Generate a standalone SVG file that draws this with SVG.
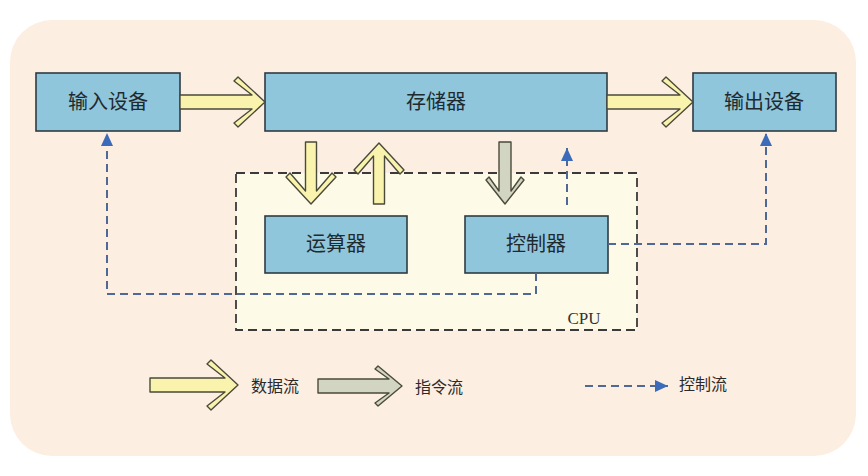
<svg xmlns="http://www.w3.org/2000/svg" width="868" height="476" viewBox="0 0 868 476">
<style>
.box{fill:#90c6db;stroke:#2e3b44;stroke-width:1.6}
.lbl{font-family:"Liberation Serif","Noto Sans CJK SC",serif;font-size:20px;fill:#1e2a30;text-anchor:middle;dominant-baseline:central}
.leg{font-family:"Liberation Serif","Noto Sans CJK SC",serif;font-size:16px;fill:#2a2a2a;dominant-baseline:central}
.data{fill:#faf3ae;stroke:#4a4a3a;stroke-width:1.4;stroke-linejoin:round}
.instr{fill:#d3d5c3;stroke:#4a4a3a;stroke-width:1.4;stroke-linejoin:round}
.ctl{fill:none;stroke:#4f6896;stroke-width:2;stroke-dasharray:8 5}
</style>
<defs>
<marker id="bh" markerUnits="userSpaceOnUse" markerWidth="14" markerHeight="14" viewBox="0 0 14 14" refX="13" refY="7" orient="auto">
<path d="M0,1 L13,7 L0,13 Z" fill="#3c6cb9"/>
</marker>
</defs>
<rect x="0" y="0" width="868" height="476" fill="#ffffff"/>
<rect x="10" y="20" width="846" height="436" rx="42" fill="#fdeee2"/>
<g id="cpu">
<rect x="236" y="173" width="401" height="157" fill="#fdfbe7" stroke="#3a3a3a" stroke-width="1.8" stroke-dasharray="9 5"/>
<text x="584" y="318" font-family="Liberation Serif,serif" font-size="17" fill="#333" text-anchor="middle" dominant-baseline="central">CPU</text>
</g>
<g id="input"><rect class="box" x="36" y="73" width="144" height="58"/><text class="lbl" x="108" y="102">输入设备</text></g>
<g id="memory"><rect class="box" x="265" y="73" width="342" height="58"/><text class="lbl" x="436" y="102">存储器</text></g>
<g id="output"><rect class="box" x="693" y="73" width="143" height="58"/><text class="lbl" x="764" y="102">输出设备</text></g>
<g id="alu"><rect class="box" x="265" y="216" width="142" height="57"/><text class="lbl" x="336" y="244">运算器</text></g>
<g id="control"><rect class="box" x="465" y="216" width="143" height="57"/><text class="lbl" x="536" y="244">控制器</text></g>
<g id="connectors">
<polygon class="data" transform="translate(265,102)" points="-85,-7 -13,-7 -31,-21 -27,-25 0,0 -27,25 -31,21 -13,7 -85,7"/>
<polygon class="data" transform="translate(693,102)" points="-86,-7 -13,-7 -31,-21 -27,-25 0,0 -27,25 -31,21 -13,7 -86,7"/>
<polygon class="data" transform="translate(311,204) rotate(90)" points="-62,-5.5 -13,-5.5 -31,-21 -27,-25 0,0 -27,25 -31,21 -13,5.5 -62,5.5"/>
<polygon class="data" transform="translate(379,143) rotate(-90)" points="-61,-5.5 -13,-5.5 -31,-21 -27,-25 0,0 -27,25 -31,21 -13,5.5 -61,5.5"/>
<polygon class="instr" transform="translate(505,204) rotate(90)" points="-62,-6 -13,-6 -27,-16 -24,-19 0,0 -24,19 -27,16 -13,6 -62,6"/>
<path class="ctl" d="M567,205 V148" marker-end="url(#bh)"/>
<path class="ctl" d="M536,273 V294 H107 V133" marker-end="url(#bh)"/>
<path class="ctl" d="M608,244 H766 V133" marker-end="url(#bh)"/>
</g>
<g id="legend">
<polygon class="data" transform="translate(238,385)" points="-88,-7 -13,-7 -31,-21 -27,-25 0,0 -27,25 -31,21 -13,7 -88,7"/>
<text class="leg" x="251" y="386">数据流</text>
<polygon class="instr" transform="translate(402,386)" points="-84,-7 -13,-7 -27,-17 -24,-20 0,0 -24,20 -27,17 -13,7 -84,7"/>
<text class="leg" x="415" y="387">指令流</text>
<path class="ctl" d="M585,386 H668" marker-end="url(#bh)"/>
<text class="leg" x="679" y="384">控制流</text>
</g>
</svg>
